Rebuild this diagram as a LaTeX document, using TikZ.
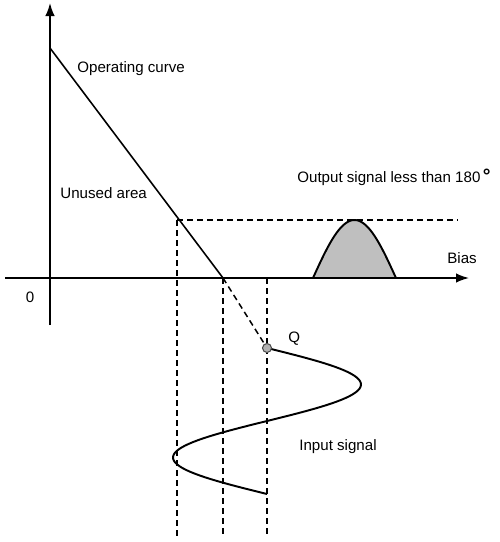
\documentclass[tikz,border=0pt]{standalone}
\usepackage{fontspec}
\setmainfont{Liberation Sans}
\usetikzlibrary{arrows.meta,calc,positioning}
\tikzset{
    myaxis/.style={line width=0.9pt,draw=black,-{Latex[length=2.6mm,width=1.9mm]}},
    myline/.style={line width=0.9pt,draw=black},
    mydash/.style={line width=0.85pt,draw=black,dash pattern=on 3.4pt off 2.3pt},
    mysignal/.style={line width=1.1pt,draw=black},
    every node/.style={font=\fontsize{8.6}{10}\selectfont,inner sep=0pt}
}
\begin{document}
\begin{tikzpicture}[x=0.02cm,y=-0.02cm]
  \useasboundingbox (0,0) rectangle (500,542);
  % axes
  \coordinate (O) at (50,278);
  \coordinate (Y0) at (50,325);
  \coordinate (Y1) at (50,3);
  \coordinate (X0) at (5,278);
  \coordinate (X1) at (469,278);
  \draw[myaxis] (Y0)--(Y1);
  \draw[myaxis] (X0)--(X1);
  % operating curve
  \coordinate (A) at (50,48);
  \coordinate (C) at (223,278);
  \coordinate (Q) at (267,348);
  \coordinate (P) at (177,220);
  \draw[myline] (A)--(C);
  \draw[mydash] (C)--(Q);
  % projections
  \draw[mydash] (P)--(458,220);
  \draw[mydash] (P)--(177,537);
  \draw[mydash] (C)--(223,537);
  \draw[mydash] (267,278)--(267,537);
  % output signal
  \filldraw[mysignal,fill=black!25]
    plot[domain=0:180,samples=40] ({313+0.4611*\x},{278-58*sin(\x)}) -- cycle;
  % input signal
  \draw[mysignal] plot[domain=0:360,samples=80] ({267+94*sin(\x)},{348+0.4056*\x});
  \filldraw[line width=0.6pt,draw=black!70,fill=black!30] (Q) circle (4.5);
  % labels
  \node[anchor=west] (lop) at (77,69) {Operating curve};
  \node[anchor=west] (lun) at (60,193) {Unused area};
  \node[anchor=west] (lout) at (297,177) {Output signal less than 180\,{\fontsize{11}{10}\selectfont\textbf{°}}};
  \node[anchor=west] (lbias) at (447,258) {Bias};
  \node (lzero) at (30,297) {0};
  \node[anchor=west] (lq) at (288,339) {Q};
  \node[anchor=west] (lin) at (299,447) {Input signal};
\end{tikzpicture}
\end{document}
